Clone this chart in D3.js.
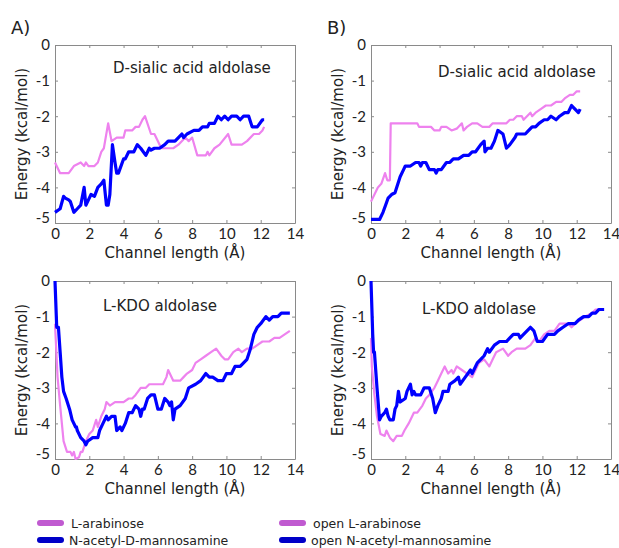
<!DOCTYPE html>
<html>
<head>
<meta charset="utf-8">
<script src="https://cdn.jsdelivr.net/npm/d3@7"></script>
<style>
  body { margin: 0; background: #fff; }
  svg text { font-family: "DejaVu Sans", sans-serif; fill: #222; }
</style>
</head>
<body>
<svg id="chart" width="619" height="548"></svg>
<script>
// ---- data: [channel length (Å), energy (kcal/mol)] ----
var xTicks = [0, 2, 4, 6, 8, 10, 12, 14];
var yTicks = [0, -1, -2, -3, -4, -5];

// A) D-sialic acid aldolase
var sialicArabinose = [[0,-3.3],[0.3,-3.6],[0.8,-3.6],[1.1,-3.4],[1.5,-3.3],[1.7,-3.4],[1.8,-3.3],[1.95,-3.4],[2.3,-3.4],[2.5,-3.3],[2.7,-3.0],[2.85,-2.9],[3.1,-2.2],[3.3,-2.7],[3.6,-2.6],[4.0,-2.6],[4.1,-2.4],[4.5,-2.4],[4.7,-2.3],[4.9,-2.3],[5.1,-2.1],[5.25,-2.0],[5.6,-2.5],[5.8,-2.5],[6.2,-2.9],[6.9,-2.9],[7.2,-2.8],[7.6,-2.6],[7.8,-2.7],[8.0,-2.6],[8.3,-3.1],[8.8,-3.1],[8.9,-3.0],[9.0,-3.1],[9.3,-2.9],[9.6,-2.8],[10.1,-2.5],[10.3,-2.8],[10.9,-2.8],[11.2,-2.7],[11.6,-2.5],[11.9,-2.5],[12.1,-2.4],[12.2,-2.3]];
var sialicMannosamine = [[0,-4.7],[0.3,-4.6],[0.5,-4.25],[0.6,-4.3],[0.8,-4.35],[0.9,-4.4],[1.1,-4.7],[1.3,-4.6],[1.5,-4.5],[1.7,-4.0],[1.8,-4.5],[2.0,-4.3],[2.1,-4.2],[2.3,-4.25],[2.5,-4.0],[2.7,-3.9],[2.85,-3.8],[3.0,-4.5],[3.1,-4.5],[3.2,-4.2],[3.35,-2.8],[3.5,-3.3],[3.6,-3.6],[3.7,-3.6],[4.0,-3.2],[4.1,-3.2],[4.3,-3.0],[4.6,-3.0],[4.8,-2.8],[5.0,-2.9],[5.3,-3.1],[5.5,-2.9],[5.6,-2.95],[5.8,-2.9],[6.1,-2.9],[6.4,-2.8],[6.6,-2.7],[7.0,-2.7],[7.2,-2.6],[7.4,-2.5],[7.5,-2.6],[7.7,-2.5],[8.1,-2.4],[8.4,-2.4],[8.6,-2.3],[8.9,-2.3],[9.0,-2.2],[9.3,-2.2],[9.5,-2.0],[9.7,-2.1],[9.9,-2.0],[10.1,-2.1],[10.3,-2.0],[10.6,-2.0],[10.8,-2.1],[11.0,-2.0],[11.3,-2.0],[11.5,-2.3],[11.8,-2.3],[12.1,-2.1],[12.2,-2.1]];

// B) D-sialic acid aldolase, open forms
var sialicOpenArabinose = [[0,-4.4],[0.3,-4.1],[0.4,-4.0],[0.6,-3.9],[0.82,-3.6],[0.95,-3.8],[1.1,-3.8],[1.15,-2.2],[2.7,-2.2],[2.8,-2.3],[3.5,-2.3],[3.7,-2.4],[4.0,-2.4],[4.1,-2.3],[4.4,-2.3],[4.7,-2.4],[5.0,-2.35],[5.3,-2.2],[5.4,-2.4],[5.6,-2.3],[5.9,-2.2],[6.2,-2.2],[6.5,-2.3],[6.9,-2.3],[7.1,-2.2],[7.9,-2.2],[8.1,-2.1],[8.3,-2.1],[8.5,-2.0],[8.8,-2.0],[8.9,-2.1],[9.1,-2.0],[9.3,-1.9],[9.4,-2.0],[9.6,-1.9],[9.9,-1.8],[10.2,-1.7],[10.5,-1.7],[10.8,-1.6],[11.1,-1.6],[11.3,-1.5],[11.6,-1.4],[11.8,-1.4],[12.0,-1.3],[12.2,-1.3]];
var sialicOpenMannosamine = [[0,-4.9],[0.5,-4.9],[0.7,-4.7],[0.85,-4.5],[1.0,-4.3],[1.2,-4.2],[1.4,-4.15],[1.7,-3.7],[1.9,-3.5],[2.0,-3.4],[2.3,-3.4],[2.6,-3.3],[2.8,-3.3],[2.9,-3.4],[3.0,-3.3],[3.2,-3.3],[3.4,-3.5],[3.7,-3.5],[3.8,-3.6],[3.9,-3.5],[4.1,-3.5],[4.4,-3.3],[4.6,-3.3],[4.8,-3.2],[5.1,-3.2],[5.4,-3.1],[5.7,-3.1],[5.9,-3.0],[6.1,-3.0],[6.4,-2.8],[6.6,-2.7],[6.65,-3.0],[6.8,-2.9],[7.0,-2.9],[7.2,-2.7],[7.4,-2.4],[7.7,-2.5],[7.9,-2.9],[8.1,-2.8],[8.4,-2.6],[8.5,-2.5],[9.0,-2.5],[9.2,-2.4],[9.4,-2.3],[9.6,-2.3],[9.8,-2.2],[10.1,-2.1],[10.3,-2.1],[10.5,-2.0],[10.8,-2.1],[11.0,-2.0],[11.3,-1.9],[11.5,-1.9],[11.7,-1.7],[11.9,-1.8],[12.1,-1.9],[12.2,-1.8]];

// A) L-KDO aldolase
var kdoArabinose = [[0,-1.2],[0.15,-2.7],[0.3,-3.5],[0.5,-4.5],[0.7,-4.8],[0.9,-4.8],[1.0,-4.9],[1.1,-4.8],[1.2,-5.0],[1.4,-4.95],[1.5,-4.8],[1.6,-4.8],[1.8,-4.5],[2.0,-4.3],[2.2,-4.2],[2.4,-3.9],[2.5,-4.1],[2.7,-3.8],[2.9,-3.6],[3.0,-3.4],[3.2,-3.5],[3.5,-3.4],[4.0,-3.4],[4.3,-3.3],[4.5,-3.3],[4.7,-3.2],[5.0,-3.0],[5.3,-3.0],[5.5,-2.9],[6.3,-2.9],[6.5,-2.7],[6.6,-2.5],[6.9,-2.8],[7.3,-2.8],[7.5,-2.7],[7.7,-2.6],[8.0,-2.5],[8.2,-2.3],[8.5,-2.2],[8.8,-2.1],[9.1,-2.0],[9.4,-1.9],[9.7,-2.1],[9.9,-2.2],[10.1,-2.2],[10.4,-2.0],[10.7,-1.9],[10.9,-2.0],[11.2,-1.9],[11.5,-1.9],[11.8,-1.8],[12.1,-1.7],[12.5,-1.7],[12.8,-1.6],[13.1,-1.6],[13.4,-1.5],[13.7,-1.4]];
var kdoMannosamine = [[0,0],[0.1,-1.3],[0.2,-1.3],[0.3,-2.0],[0.4,-2.7],[0.5,-3.1],[0.65,-3.3],[0.85,-3.6],[1.0,-3.9],[1.2,-4.1],[1.25,-4.1],[1.3,-4.2],[1.5,-4.4],[1.7,-4.5],[1.8,-4.6],[1.9,-4.5],[2.2,-4.4],[2.5,-4.4],[2.6,-4.2],[2.8,-4.0],[3.0,-3.8],[3.1,-3.9],[3.3,-3.8],[3.5,-3.8],[3.6,-4.2],[3.8,-4.1],[3.9,-4.2],[4.1,-4.0],[4.3,-3.7],[4.5,-3.7],[4.7,-3.5],[4.9,-3.6],[5.0,-3.8],[5.1,-3.6],[5.2,-3.6],[5.4,-3.3],[5.6,-3.2],[5.8,-3.2],[6.0,-3.6],[6.2,-3.6],[6.4,-3.3],[6.6,-3.4],[6.7,-3.5],[6.8,-3.4],[6.9,-3.9],[7.0,-3.6],[7.3,-3.5],[7.6,-3.3],[7.8,-3.0],[8.2,-2.9],[8.5,-2.8],[8.8,-2.6],[9.0,-2.7],[9.2,-2.7],[9.5,-2.8],[9.8,-2.8],[10.0,-2.6],[10.3,-2.6],[10.5,-2.4],[10.8,-2.4],[11.0,-2.3],[11.2,-2.2],[11.4,-1.9],[11.6,-1.5],[11.8,-1.3],[12.0,-1.2],[12.3,-1.0],[12.5,-1.1],[12.7,-1.0],[13.0,-1.0],[13.2,-0.9],[13.5,-0.9],[13.7,-0.9]];

// B) L-KDO aldolase, open forms
var kdoOpenArabinose = [[0,-1.6],[0.05,-2.4],[0.2,-3.2],[0.35,-3.8],[0.55,-4.3],[0.8,-4.35],[0.9,-4.2],[1.1,-4.4],[1.3,-4.5],[1.5,-4.35],[1.8,-4.35],[1.95,-4.2],[2.2,-4.0],[2.5,-3.7],[2.7,-3.7],[3.0,-3.5],[3.2,-3.3],[3.4,-3.2],[3.7,-3.0],[3.9,-2.8],[4.1,-2.6],[4.3,-2.4],[4.5,-2.6],[4.7,-2.5],[4.8,-2.6],[5.0,-2.4],[5.3,-2.5],[5.6,-2.6],[5.9,-2.7],[6.1,-2.5],[6.3,-2.3],[6.6,-2.2],[6.9,-2.4],[7.1,-2.2],[7.3,-2.0],[7.7,-1.9],[8.0,-2.1],[8.2,-2.0],[8.5,-1.9],[9.0,-1.9],[9.3,-1.8],[9.6,-1.6],[9.8,-1.7],[10.1,-1.5],[10.4,-1.4],[10.7,-1.4],[11.0,-1.2],[11.3,-1.2],[11.5,-1.2],[11.7,-1.3],[11.9,-1.2],[12.2,-1.1],[12.5,-1.0],[12.9,-0.9],[13.1,-0.8],[13.3,-0.8]];
var kdoOpenMannosamine = [[0,0],[0.1,-1.5],[0.15,-2.0],[0.2,-2.0],[0.35,-3.0],[0.5,-3.9],[0.6,-3.8],[0.8,-3.7],[0.9,-3.6],[1.0,-3.8],[1.1,-3.9],[1.3,-3.9],[1.4,-3.6],[1.5,-3.5],[1.6,-3.1],[1.7,-3.4],[2.0,-3.3],[2.1,-3.1],[2.3,-2.9],[2.4,-3.2],[2.5,-3.1],[2.6,-3.2],[2.9,-3.2],[3.1,-3.0],[3.4,-3.0],[3.6,-3.3],[3.75,-3.7],[3.9,-3.5],[4.1,-3.3],[4.2,-3.1],[4.5,-3.1],[4.6,-2.9],[4.9,-2.8],[5.1,-2.7],[5.2,-2.9],[5.5,-2.7],[5.8,-2.5],[5.9,-2.6],[6.2,-2.3],[6.4,-2.2],[6.6,-2.1],[6.8,-1.9],[6.9,-2.0],[7.2,-1.8],[7.5,-1.7],[7.9,-1.7],[8.1,-1.6],[8.3,-1.5],[8.6,-1.5],[8.7,-1.6],[8.9,-1.5],[9.1,-1.4],[9.3,-1.3],[9.5,-1.4],[9.7,-1.7],[10.0,-1.7],[10.3,-1.5],[10.7,-1.5],[10.9,-1.4],[11.2,-1.3],[11.5,-1.2],[11.9,-1.2],[12.1,-1.1],[12.4,-1.0],[12.7,-1.0],[12.9,-0.9],[13.1,-0.9],[13.3,-0.8],[13.6,-0.8]];

var panelTitles = ["D-sialic acid aldolase", "D-sialic acid aldolase", "L-KDO aldolase", "L-KDO aldolase"];
var legendLeft = ["L-arabinose", "N-acetyl-D-mannosamine"];
var legendRight = ["open L-arabinose", "open N-acetyl-mannosamine"];

var pinkLine = "#ee82ee", blueLine = "#0000ff";
var pinkKey = "#c05ad0", blueKey = "#0000c8";

// ---- layout ----
var panels = [
  {left: 55,  top: 45,  ara: sialicArabinose,     man: sialicMannosamine,     title: panelTitles[0], tx: 113, ty: 73},
  {left: 371, top: 45,  ara: sialicOpenArabinose, man: sialicOpenMannosamine, title: panelTitles[1], tx: 438, ty: 77},
  {left: 55,  top: 281, ara: kdoArabinose,        man: kdoMannosamine,        title: panelTitles[2], tx: 103, ty: 311},
  {left: 371, top: 281, ara: kdoOpenArabinose,    man: kdoOpenMannosamine,    title: panelTitles[3], tx: 422, ty: 314}
];
var pw = 240, ph = 178;

var svg = d3.select("#chart");

panels.forEach(function(p) {
  var x = d3.scaleLinear().domain([0, 14]).range([0, pw]);
  var y = d3.scaleLinear().domain([-5, 0]).range([ph, 0]);

  var g = svg.append("g").attr("transform", "translate(" + p.left + "," + p.top + ")");

  // box with inward ticks, matlab style
  var tickFmt = function(d) { return d === 0 ? "0" : "-" + Math.abs(d); };
  g.append("g").attr("transform", "translate(0," + ph + ")")
    .call(d3.axisBottom(x).tickValues(xTicks).tickSizeInner(-3).tickSizeOuter(0).tickPadding(5));
  var left = g.append("g")
    .call(d3.axisLeft(y).tickValues(yTicks).tickFormat(tickFmt).tickSizeInner(-3).tickSizeOuter(0).tickPadding(5));
  g.append("g")
    .call(d3.axisTop(x).tickValues(xTicks).tickSizeInner(-3).tickSizeOuter(0).tickFormat(""));
  g.append("g").attr("transform", "translate(" + pw + ",0)")
    .call(d3.axisRight(y).tickValues(yTicks).tickSizeInner(-3).tickSizeOuter(0).tickFormat(""));

  g.selectAll(".domain").attr("stroke", "#8a8a8a");
  g.selectAll(".tick line").attr("stroke", "#8a8a8a");
  g.selectAll(".tick text").attr("font-size", 15).attr("fill", "#222")
    .style("font-family", "Lato, sans-serif");
  // lowest label sits a little above its tick, as in the original
  left.selectAll(".tick").filter(function(d) { return d === -5; })
    .select("text").attr("dy", "-0.05em");

  var line = d3.line().x(function(d) { return x(d[0]); }).y(function(d) { return y(d[1]); });

  g.append("path").datum(p.ara).attr("d", line)
    .attr("fill", "none").attr("stroke", pinkLine).attr("stroke-width", 2.2).attr("stroke-linejoin", "round");
  g.append("path").datum(p.man).attr("d", line)
    .attr("fill", "none").attr("stroke", blueLine).attr("stroke-width", 3.2).attr("stroke-linejoin", "round");

  svg.append("text").attr("x", p.tx).attr("y", p.ty).attr("font-size", 15).text(p.title);

  svg.append("text").attr("x", p.left + pw / 2).attr("y", p.top + ph + 35)
    .attr("text-anchor", "middle").attr("font-size", 15).text("Channel length (Å)");

  svg.append("text")
    .attr("transform", "translate(" + (p.left - 28) + "," + (p.top + ph / 2) + ") rotate(-90)")
    .attr("text-anchor", "middle").attr("font-size", 15).text("Energy (kcal/mol)");
});

svg.append("text").attr("x", 11).attr("y", 34).attr("font-size", 18).text("A)");
svg.append("text").attr("x", 327).attr("y", 34).attr("font-size", 18).text("B)");

// legends
function legend(x0, labels) {
  [pinkKey, blueKey].forEach(function(c, i) {
    var yy = 523 + i * 17;
    svg.append("line").attr("x1", x0).attr("x2", x0 + 21).attr("y1", yy).attr("y2", yy)
      .attr("stroke", c).attr("stroke-width", 6).attr("stroke-linecap", "round");
    svg.append("text").attr("x", x0 + 31 - i * 2).attr("y", yy + 4.5).attr("font-size", 12.5).text(labels[i]);
  });
}
legend(40, legendLeft);
legend(282, legendRight);
</script>
</body>
</html>
